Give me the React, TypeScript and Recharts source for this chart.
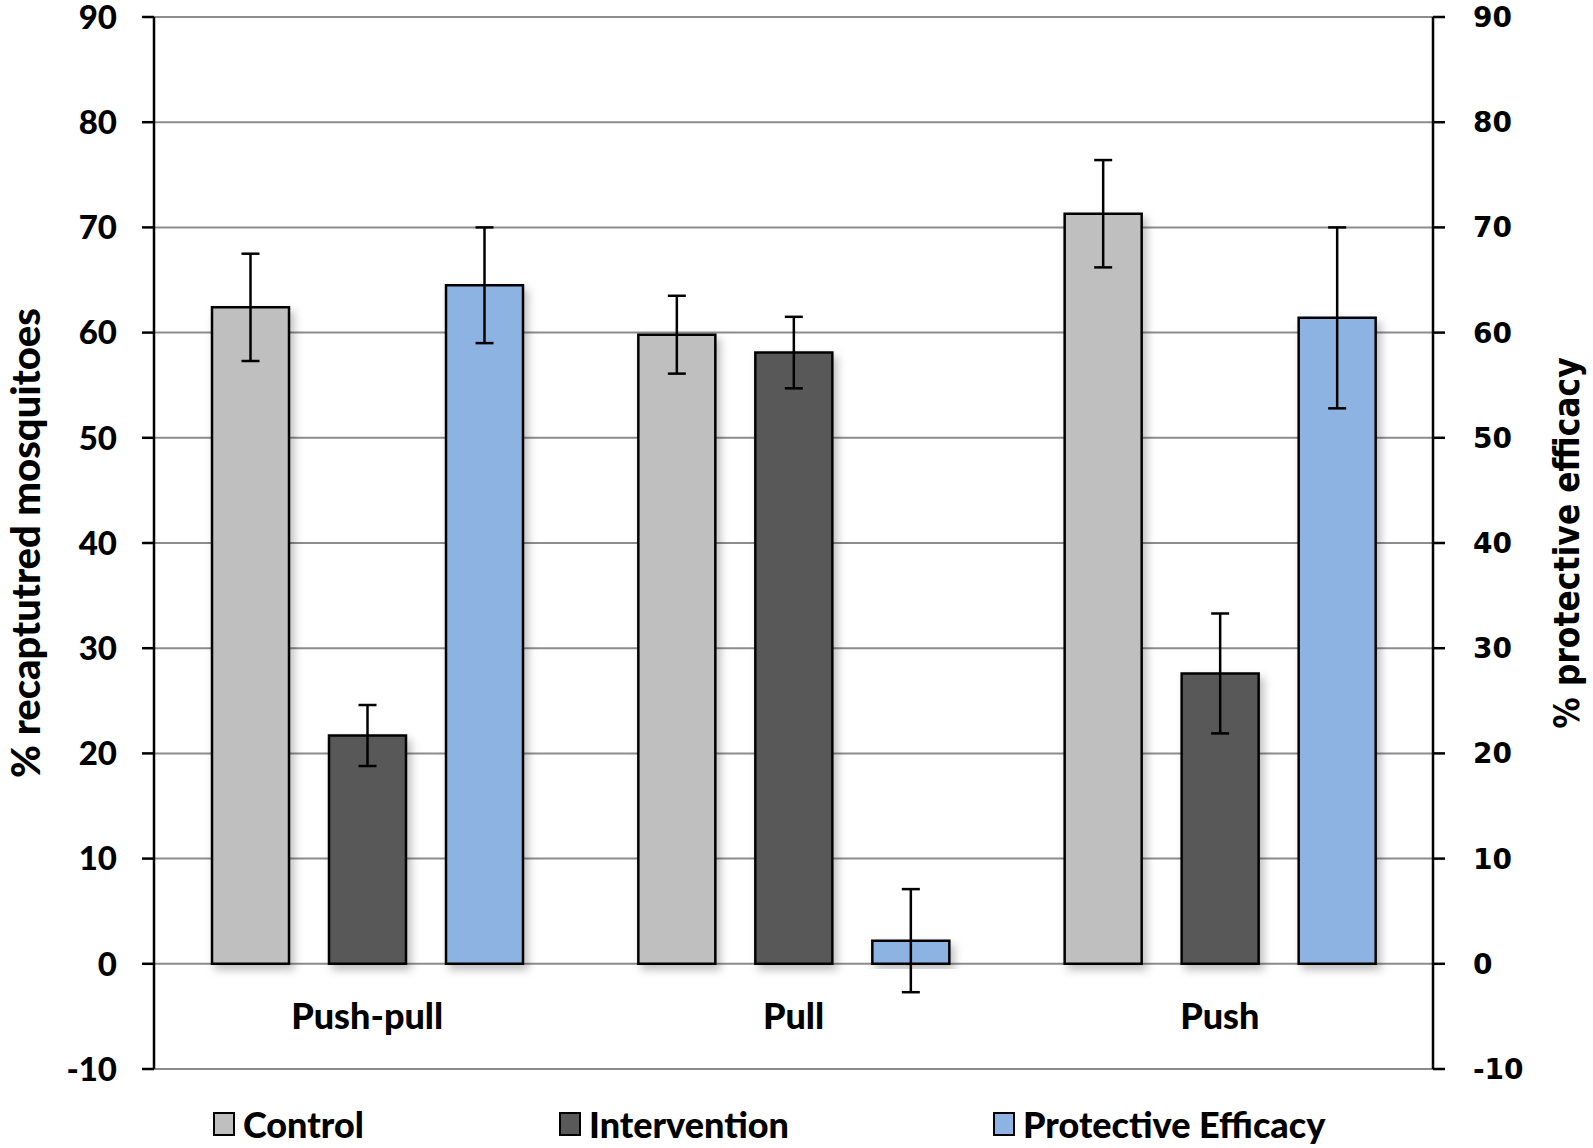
import React from 'react';
import { BarChart, Bar, XAxis, YAxis, CartesianGrid, ErrorBar, Legend, Rectangle } from 'recharts';

// chart values
const categories = ['Push-pull', 'Pull', 'Push'];
const controlValues = [62.4, 59.8, 71.3];
const controlErrors = [5.1, 3.7, 5.1];
const interventionValues = [21.7, 58.1, 27.6];
const interventionErrors = [2.9, 3.4, 5.7];
const efficacyValues = [64.5, 2.2, 61.4];
const efficacyErrors = [5.5, 4.9, 8.6];
const axisTicks = [-10, 0, 10, 20, 30, 40, 50, 60, 70, 80, 90];

const data = categories.map((name, i) => ({
  name,
  control: controlValues[i],
  controlErr: controlErrors[i],
  intervention: interventionValues[i],
  interventionErr: interventionErrors[i],
  efficacy: efficacyValues[i],
  efficacyErr: efficacyErrors[i],
}));

const LABEL_FONT = 'Lato, "Open Sans", sans-serif';

// bar with a soft drop shadow, like the original
const ShadowBar = (props: any) => <Rectangle {...props} filter="url(#barShadow)" />;

// category names sit just under the zero line
const CategoryTick = (props: any) => {
  const { x, y, payload } = props;
  return (
    <text
      x={x}
      y={y - 54}
      textAnchor="middle"
      dominantBaseline="central"
      fontFamily={LABEL_FONT}
      fontWeight={900}
      fontSize={36}
      fill="#000"
    >
      {payload.value}
    </text>
  );
};

// legend items are spread out under the plot
const legendLeft = [213, 559, 993];
const renderLegend = (props: any) => {
  const { payload } = props;
  return (
    <div style={{ position: 'relative', width: 1593, height: 40 }}>
      {payload.map((entry: any, i: number) => (
        <div
          key={entry.value}
          style={{
            position: 'absolute',
            left: legendLeft[i],
            top: 0,
            height: 40,
            display: 'flex',
            alignItems: 'center',
            fontFamily: LABEL_FONT,
            fontWeight: 900,
            fontSize: 36,
            color: '#000',
          }}
        >
          <span
            style={{
              display: 'inline-block',
              width: 18,
              height: 20,
              background: entry.color,
              border: '2px solid #000',
              marginRight: 8,
            }}
          />
          {entry.value}
        </div>
      ))}
    </div>
  );
};

const App: React.FC = () => {
  return (
    <div style={{ position: 'absolute', left: 0, top: 0, width: 1593, height: 1148, background: '#fff' }}>
      <BarChart
        width={1593}
        height={1148}
        data={data}
        margin={{ top: 17, right: 0, bottom: 78, left: 0 }}
        barGap={40}
      >
        <defs>
          <filter id="barShadow" x="-20%" y="-10%" width="150%" height="130%">
            <feDropShadow dx={4} dy={5} stdDeviation={4} floodColor="#000" floodOpacity={0.25} />
          </filter>
        </defs>

        <CartesianGrid vertical={false} stroke="#8c8c8c" strokeWidth={2} yAxisId="left" />

        <XAxis
          dataKey="name"
          height={1}
          axisLine={false}
          tickLine={false}
          tickSize={0}
          tickMargin={0}
          tick={<CategoryTick />}
          interval={0}
        />

        {/* left axis: % recaptured */}
        <YAxis
          yAxisId="left"
          width={154}
          domain={[-10, 90]}
          ticks={axisTicks}
          allowDataOverflow
          interval={0}
          axisLine={{ stroke: '#000', strokeWidth: 2.5 }}
          tickLine={{ stroke: '#000', strokeWidth: 2.5 }}
          tickSize={12}
          tickMargin={25}
          tick={{ fontFamily: LABEL_FONT, fontWeight: 900, fontSize: 33, fill: '#000' }}
          label={{
            value: '% recaptutred mosquitoes',
            angle: -90,
            position: 'center',
            dx: -51,
            style: { fontFamily: LABEL_FONT, fontWeight: 900, fontSize: 40, fill: '#000', textAnchor: 'middle' },
          }}
        />

        {/* right axis: % protective efficacy */}
        <YAxis
          yAxisId="right"
          orientation="right"
          width={160}
          domain={[-10, 90]}
          ticks={axisTicks}
          allowDataOverflow
          interval={0}
          axisLine={{ stroke: '#000', strokeWidth: 2.5 }}
          tickLine={{ stroke: '#000', strokeWidth: 2.5 }}
          tickSize={12}
          tickMargin={28}
          tick={{ fontFamily: '"DejaVu Sans", Verdana, sans-serif', fontWeight: 700, fontSize: 28, fill: '#000' }}
          label={{
            value: '% protective efficacy',
            angle: -90,
            position: 'center',
            dx: 54,
            style: {
              fontFamily: '"DejaVu Sans Condensed", "DejaVu Sans", sans-serif',
              fontStretch: 'condensed',
              fontWeight: 700,
              fontSize: 35,
              fill: '#000',
              textAnchor: 'middle',
            },
          }}
        />

        <Legend verticalAlign="middle" align="center" wrapperStyle={{ top: 1104, left: 0 }} content={renderLegend} />

        <Bar yAxisId="left" dataKey="control" name="Control" fill="#bfbfbf" stroke="#000" strokeWidth={2.5} barSize={77} shape={ShadowBar} isAnimationActive={false}>
          <ErrorBar dataKey="controlErr" width={9} stroke="#000" strokeWidth={2.5} direction="y" />
        </Bar>
        <Bar yAxisId="left" dataKey="intervention" name="Intervention" fill="#595959" stroke="#000" strokeWidth={2.5} barSize={77} shape={ShadowBar} isAnimationActive={false}>
          <ErrorBar dataKey="interventionErr" width={9} stroke="#000" strokeWidth={2.5} direction="y" />
        </Bar>
        <Bar yAxisId="left" dataKey="efficacy" name="Protective Efficacy" fill="#8db3e2" stroke="#000" strokeWidth={2.5} barSize={77} shape={ShadowBar} isAnimationActive={false}>
          <ErrorBar dataKey="efficacyErr" width={9} stroke="#000" strokeWidth={2.5} direction="y" />
        </Bar>
      </BarChart>
    </div>
  );
};

export default App;
